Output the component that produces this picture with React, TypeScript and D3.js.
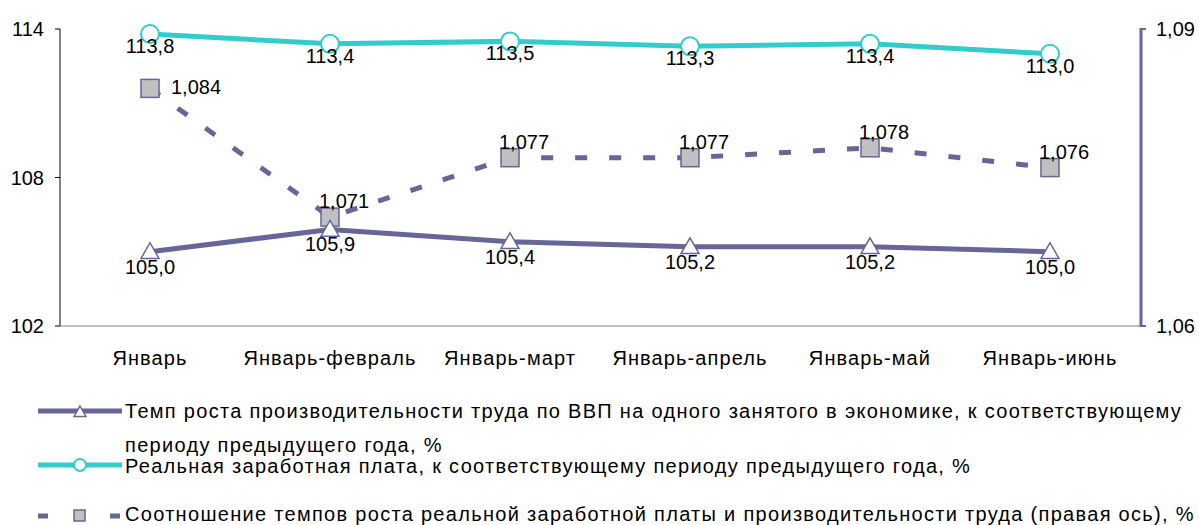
import React from "react";
import * as d3 from "d3";

const categories = ["Январь", "Январь-февраль", "Январь-март", "Январь-апрель", "Январь-май", "Январь-июнь"];
const productivity = [105.0, 105.9, 105.4, 105.2, 105.2, 105.0];
const realWage = [113.8, 113.4, 113.5, 113.3, 113.4, 113.0];
const ratio = [1.084, 1.071, 1.077, 1.077, 1.078, 1.076];
const leftTicks = [102, 108, 114];
const rightTicks = [1.06, 1.09];
const legendLabels = [
  ["Темп роста производительности труда по ВВП на одного занятого в экономике,  к соответствующему", "периоду предыдущего года, %"],
  ["Реальная заработная плата, к соответствующему периоду предыдущего года, %"],
  ["Соотношение темпов роста реальной заработной платы и производительности труда (правая ось), %"],
];

const PURPLE = "#666699";
const TEAL = "#33cccc";
const FONT = "'Liberation Sans', Arial, sans-serif";

const fmt = (v: number, d: number) => v.toFixed(d).replace(".", ",");

export default function App() {
  const W = 1199, H = 525;
  const left = 60, right = 1141, top = 29, bottom = 326;
  const x = d3.scaleBand<string>().domain(categories).range([left, right - 1]);
  const cx = (c: string) => (x(c) as number) + x.bandwidth() / 2;
  const yL = d3.scaleLinear().domain([102, 114]).range([bottom, top]);
  const yR = d3.scaleLinear().domain([1.06, 1.09]).range([bottom, top]);

  const lineL = d3.line<number>().x((_, i) => cx(categories[i])).y((d) => yL(d));
  const lineR = d3.line<number>().x((_, i) => cx(categories[i])).y((d) => yR(d));

  const tri = (px: number, py: number, s = 9) =>
    `M${px},${py - s} L${px + s},${py + s * 0.75} L${px - s},${py + s * 0.75} Z`;

  return (
    <svg width={W} height={H} style={{ position: "absolute", left: 0, top: 0, background: "#fff" }} fontFamily={FONT}>
      {/* left axis */}
      <line x1={left} x2={left} y1={top} y2={bottom} stroke="#000" strokeWidth={1} />
      {leftTicks.map((t) => (
        <g key={t}>
          <line x1={left - 5} x2={left} y1={yL(t)} y2={yL(t)} stroke="#000" />
          <text x={left - 16} y={yL(t)} dy="0.35em" textAnchor="end" fontSize={20}>{t}</text>
        </g>
      ))}
      {/* bottom axis */}
      <line x1={left} x2={right} y1={bottom} y2={bottom} stroke="#808080" strokeWidth={1.2} />
      {categories.map((c) => (
        <text key={c} x={cx(c)} y={bottom + 39} textAnchor="middle" fontSize={20} letterSpacing={1.1}>{c}</text>
      ))}
      {/* right axis */}
      <line x1={right} x2={right} y1={top - 1} y2={bottom + 1} stroke={PURPLE} strokeWidth={3} />
      {rightTicks.map((t) => (
        <g key={t}>
          <line x1={right} x2={right + 5} y1={yR(t)} y2={yR(t)} stroke={PURPLE} strokeWidth={2} />
          <text x={right + 15} y={yR(t)} dy="0.35em" textAnchor="start" fontSize={20}>{fmt(t, 2)}</text>
        </g>
      ))}

      {/* ratio dashed line */}
      <path d={lineR(ratio) as string} fill="none" stroke={PURPLE} strokeWidth={5} strokeDasharray="12,22" />
      {/* productivity line */}
      <path d={lineL(productivity) as string} fill="none" stroke={PURPLE} strokeWidth={5} />
      {/* wage line */}
      <path d={lineL(realWage) as string} fill="none" stroke={TEAL} strokeWidth={5} />

      {ratio.map((v, i) => {
        const px = cx(categories[i]), py = yR(v);
        return (
          <g key={"r" + i}>
            <rect x={px - 9} y={py - 9} width={18} height={18} fill="#c0c0c0" stroke={PURPLE} strokeWidth={1.5} />
            {i === 0 ? (
              <text x={px + 21} y={py + 6} fontSize={20}>{fmt(v, 3)}</text>
            ) : (
              <text x={px + 14} y={py - 9} textAnchor="middle" fontSize={20}>{fmt(v, 3)}</text>
            )}
          </g>
        );
      })}
      {productivity.map((v, i) => {
        const px = cx(categories[i]), py = yL(v);
        return (
          <g key={"p" + i}>
            <path d={tri(px, py)} fill="#fff" stroke={PURPLE} strokeWidth={1.5} />
            <text x={px} y={py + 22} textAnchor="middle" fontSize={20}>{fmt(v, 1)}</text>
          </g>
        );
      })}
      {realWage.map((v, i) => {
        const px = cx(categories[i]), py = yL(v);
        return (
          <g key={"w" + i}>
            <circle cx={px} cy={py} r={9} fill="#fff" stroke={TEAL} strokeWidth={2} />
            <text x={px} y={py + 19} textAnchor="middle" fontSize={20}>{fmt(v, 1)}</text>
          </g>
        );
      })}

      {/* legend */}
      <g fontSize={20} letterSpacing={1.3}>
        <line x1={38} x2={122} y1={411} y2={411} stroke={PURPLE} strokeWidth={5} />
        <path d={tri(80, 412, 6)} fill="#fff" stroke={PURPLE} strokeWidth={1.5} />
        <text x={125} y={411} dy="0.35em">{legendLabels[0][0]}</text>
        <text x={125} y={446} dy="0.32em">{legendLabels[0][1]}</text>

        <line x1={38} x2={122} y1={465} y2={465} stroke={TEAL} strokeWidth={5} />
        <circle cx={80} cy={465} r={6} fill="#fff" stroke={TEAL} strokeWidth={2} />
        <text x={125} y={465} dy="0.38em">{legendLabels[1][0]}</text>

        <line x1={38} x2={122} y1={516} y2={516} stroke={PURPLE} strokeWidth={5} strokeDasharray="10,26" />
        <rect x={74} y={510} width={11} height={11} fill="#c0c0c0" stroke={PURPLE} strokeWidth={1.5} />
        <text x={125} y={521}>{legendLabels[2][0]}</text>
      </g>
    </svg>
  );
}
